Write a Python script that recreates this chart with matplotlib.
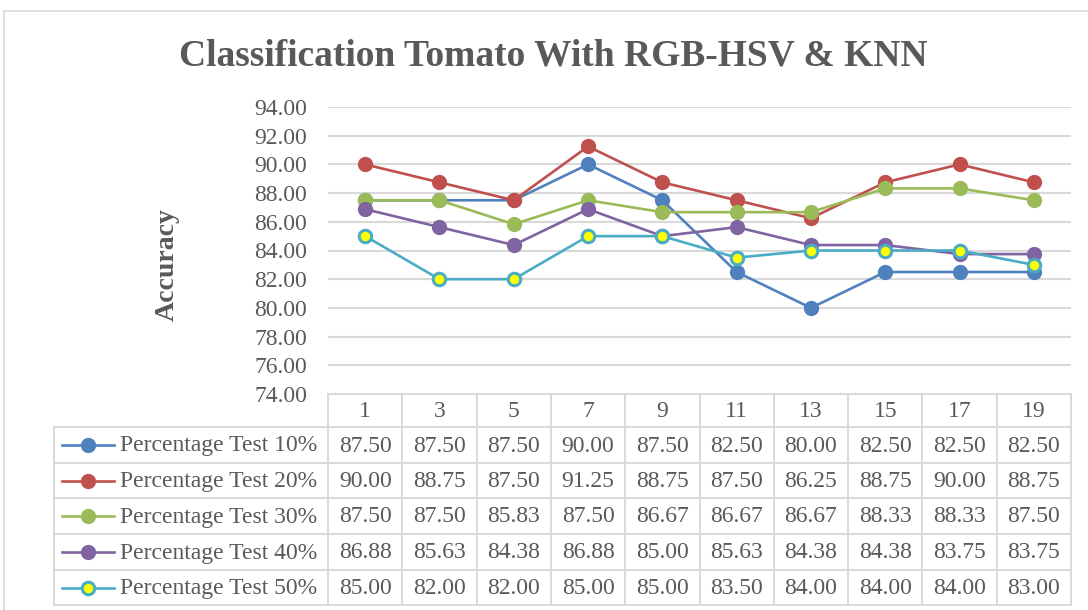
import matplotlib
matplotlib.use("Agg")
import matplotlib.pyplot as plt
from matplotlib.lines import Line2D

plt.rcParams['font.family'] = ['Liberation Serif', 'DejaVu Serif']

k_values = ["1", "3", "5", "7", "9", "11", "13", "15", "17", "19"]
series_names = ["Percentage Test 10%", "Percentage Test 20%", "Percentage Test 30%",
                "Percentage Test 40%", "Percentage Test 50%"]
test10 = [87.50, 87.50, 87.50, 90.00, 87.50, 82.50, 80.00, 82.50, 82.50, 82.50]
test20 = [90.00, 88.75, 87.50, 91.25, 88.75, 87.50, 86.25, 88.75, 90.00, 88.75]
test30 = [87.50, 87.50, 85.83, 87.50, 86.67, 86.67, 86.67, 88.33, 88.33, 87.50]
test40 = [86.88, 85.63, 84.38, 86.88, 85.00, 85.63, 84.38, 84.38, 83.75, 83.75]
test50 = [85.00, 82.00, 82.00, 85.00, 85.00, 83.50, 84.00, 84.00, 84.00, 83.00]
series = [test10, test20, test30, test40, test50]
y_ticks = [74, 76, 78, 80, 82, 84, 86, 88, 90, 92, 94]

colors = ["#4f81bd", "#c0504d", "#9bbb59", "#8064a2", "#4bacc6"]
text_col = "#595959"
grid_col = "#d9d9d9"

W, H = 1088, 610
fig = plt.figure(figsize=(W / 100, H / 100), dpi=100)

# pixel geometry
px_left, px_right = 328, 1071
px_top, px_bot = 107, 394
ax = fig.add_axes([px_left / W, 1 - px_bot / H, (px_right - px_left) / W, (px_bot - px_top) / H])
x = list(range(len(k_values)))

def style(i):
    if i == 4:
        return dict(marker='o', markersize=9.0, markerfacecolor='#ffff00',
                    markeredgecolor=colors[i], markeredgewidth=2.2)
    return dict(marker='o', markersize=11.0, markerfacecolor=colors[i],
                markeredgecolor=colors[i], markeredgewidth=0)

for i, s in enumerate(series):
    ax.plot(x, s, color=colors[i], lw=1.9, zorder=3 + i, **style(i))

ax.set_xlim(-0.5, len(k_values) - 0.5)
ax.set_ylim(74, 94)
ax.set_yticks(y_ticks)
ax.set_yticklabels([f"{v:.2f}" for v in y_ticks], fontsize=17, color=text_col)
ax.set_xticks([])
ax.tick_params(axis='y', length=0, pad=15)
for sp in ax.spines.values():
    sp.set_visible(False)
for v in y_ticks[1:]:
    ax.axhline(v, color=grid_col, lw=1.5, zorder=1)

# overlay axes in pixel coordinates
ov = fig.add_axes([0, 0, 1, 1], zorder=-1)
ov.set_xlim(0, W)
ov.set_ylim(H, 0)
ov.axis('off')
ov2 = fig.add_axes([0, 0, 1, 1], zorder=5)
ov2.set_xlim(0, W)
ov2.set_ylim(H, 0)
ov2.axis('off')

# chart border
ov.plot([4, W], [11, 11], color=grid_col, lw=1.2)
ov.plot([4, 4], [11, H], color=grid_col, lw=1.2)

# title
ov2.text(553, 56, "Classification Tomato With RGB-HSV & KNN", fontsize=27, fontweight='bold',
         color=text_col, ha='center', va='center')
# y label
ov2.text(167, 265, "Accuracy", fontsize=20, fontweight='bold', color=text_col,
         ha='center', va='center', rotation=90)

# table
row_edges = [394, 427, 463, 498, 534, 570, 605]
tbl_left = 54
ncol = len(k_values)
colw = (px_right - px_left) / ncol
lw_t = 1.4
ov2.plot([px_left, px_right], [row_edges[0]] * 2, color=grid_col, lw=lw_t)
for y in row_edges[1:]:
    ov2.plot([tbl_left, px_right], [y, y], color=grid_col, lw=lw_t)
ov2.plot([tbl_left, tbl_left], [row_edges[1], row_edges[-1]], color=grid_col, lw=lw_t)
for j in range(ncol + 1):
    xx = px_left + j * colw
    ov2.plot([xx, xx], [row_edges[0], row_edges[-1]], color=grid_col, lw=lw_t)

for j, k in enumerate(k_values):
    ov2.text(px_left + (j + 0.5) * colw, (row_edges[0] + row_edges[1]) / 2 + 1, k,
             fontsize=17, color=text_col, ha='center', va='center')

for i, s in enumerate(series):
    yc = (row_edges[i + 1] + row_edges[i + 2]) / 2
    ov2.add_line(Line2D([62, 114], [yc, yc], color=colors[i], lw=1.9))
    ov2.add_line(Line2D([88], [yc], color=colors[i], lw=0, **style(i)))
    ov2.text(120, yc + 1, series_names[i], fontsize=17, color=text_col, ha='left', va='center')
    for j, v in enumerate(s):
        ov2.text(px_left + (j + 0.5) * colw, yc + 1, f"{v:.2f}", fontsize=17,
                 color=text_col, ha='center', va='center')

fig.savefig("out.png", dpi=100)
